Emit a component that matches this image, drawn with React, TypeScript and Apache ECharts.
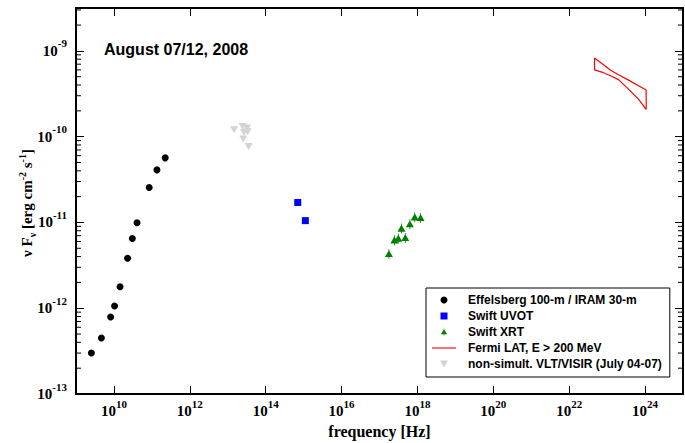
import React, { useEffect, useRef } from 'react';
import * as echarts from 'echarts';

// ---- data (frequency in Hz, nuFnu in erg cm^-2 s^-1) ----
const radioFreq = [2.54e9, 4.66e9, 8.18e9, 1.04e10, 1.45e10, 2.29e10, 3.05e10, 4.06e10, 8.5e10, 1.36e11, 2.25e11];
const radioFlux = [3.0e-13, 4.5e-13, 7.9e-13, 1.06e-12, 1.78e-12, 3.83e-12, 6.5e-12, 9.9e-12, 2.56e-11, 4.1e-11, 5.66e-11];

const uvotFreq = [7.0e14, 1.11e15];
const uvotFlux = [1.71e-11, 1.05e-11];

const xrtFreq = [1.77e17, 2.47e17, 3.13e17, 4.78e17, 3.79e17, 6.31e17, 8.49e17, 1.21e18];
const xrtFlux = [4.3e-12, 6.2e-12, 6.5e-12, 6.6e-12, 8.5e-12, 9.55e-12, 1.15e-11, 1.13e-11];

const visirFreq = [1.47e13, 2.47e13, 3.24e13, 3.34e13, 2.7e13, 2.54e13, 3.55e13];
const visirFlux = [1.2e-10, 1.31e-10, 1.26e-10, 1.14e-10, 1.12e-10, 9.4e-11, 7.7e-11];

const latFreq = [4.66e22, 8.04e22, 1.23e23, 2.0e23, 3.66e23, 6.7e23, 1.07e24];
const latUpper = [8.27e-10, 6.9e-10, 5.95e-10, 5.28e-10, 4.56e-10, 3.93e-10, 3.49e-10];
const latLower = [6.0e-10, 5.57e-10, 5.14e-10, 4.62e-10, 3.58e-10, 2.74e-10, 2.08e-10];

const seriesNames = [
  'Effelsberg 100-m / IRAM 30-m',
  'Swift UVOT',
  'Swift XRT',
  'Fermi LAT, E > 200 MeV',
  'non-simult. VLT/VISIR (July 04-07)',
];

// tick labels (exponents of ten)
const xLabelExps = [10, 12, 14, 16, 18, 20, 22, 24];
const yLabelExps = [-13, -12, -11, -10, -9];

const xMinExp = 9;
const xMaxExp = 25;
const yMinExp = -13;
const yMaxExp = -8.5;
const minorMultipliers = [2, 3, 4, 5, 6, 7, 8, 9];

const L = Math.log10;
const pairs = (xs: number[], ys: number[]) => xs.map((x, i) => [L(x), L(ys[i])]);

const serif = 'Liberation Serif';
const sans = 'Liberation Sans';

const powRich = {
  b: { fontFamily: serif, fontWeight: 'bold', fontSize: 15, lineHeight: 26, color: '#000' },
  s: { fontFamily: serif, fontWeight: 'bold', fontSize: 11, lineHeight: 11, verticalAlign: 'top', color: '#000' },
};
const makeFormatter = (exps: number[]) => (v: number) => {
  const hit = exps.find((e) => Math.abs(e - v) < 1e-6);
  return hit === undefined ? '' : `{b|10}{s|${hit}}`;
};

export default function App() {
  const ref = useRef<HTMLDivElement>(null);
  useEffect(() => {
    if (!ref.current) return;
    const chart = echarts.init(ref.current, null, { renderer: 'svg' });

    const minorY: number[][] = [];
    for (let e = yMinExp; e < yMaxExp; e++) {
      for (const m of minorMultipliers) {
        const v = e + L(m);
        if (v < yMaxExp) minorY.push([xMinExp, v]);
      }
    }

    const lat = [
      ...latFreq.map((f, i) => [L(f), L(latUpper[i])]),
      ...latFreq.map((f, i) => [L(f), L(latLower[i])]).reverse(),
      [L(latFreq[0]), L(latUpper[0])],
    ];

    const axisLine = { onZero: false, lineStyle: { color: '#000', width: 2 } };
    const majorTick = { inside: true, length: 8, lineStyle: { color: '#000', width: 1 } };

    const xBase = {
      type: 'value', min: xMinExp, max: xMaxExp, splitNumber: 8, minInterval: 2, maxInterval: 2,
      axisLine, axisTick: majorTick, splitLine: { show: false },
    };
    const yBase = {
      type: 'value', min: yMinExp, max: yMaxExp, minInterval: 1, maxInterval: 1,
      axisLine, axisTick: majorTick, splitLine: { show: false },
    };

    chart.setOption({
      animation: false,
      backgroundColor: '#fff',
      title: {
        text: 'August 07/12, 2008', left: 104, top: 41, padding: 0,
        textStyle: { fontFamily: sans, fontWeight: 'bold', fontSize: 16, color: '#000' },
      },
      grid: { left: 76, right: 2, top: 8, bottom: 49, containLabel: false, outerBoundsMode: 'none' },
      xAxis: [
        {
          ...xBase, position: 'bottom',
          axisLabel: { margin: 4, formatter: makeFormatter(xLabelExps), rich: powRich, hideOverlap: false },
          name: 'frequency [Hz]', nameLocation: 'middle', nameGap: 28,
          nameTextStyle: { fontFamily: serif, fontWeight: 'bold', fontSize: 16, color: '#000' },
        },
        { ...xBase, position: 'top', axisLabel: { show: false } },
      ],
      yAxis: [
        {
          ...yBase, position: 'left',
          axisLabel: { margin: 9, formatter: makeFormatter(yLabelExps), rich: powRich, hideOverlap: false },
        },
        { ...yBase, position: 'right', axisLabel: { show: false } },
      ],
      legend: {
        orient: 'vertical', left: 426, top: 288, padding: [6, 8, 7, 6], itemGap: 4,
        itemWidth: 24, itemHeight: 7, borderColor: '#000', borderWidth: 1, borderRadius: 0,
        backgroundColor: '#fff',
        textStyle: { fontFamily: sans, fontWeight: 'bold', fontSize: 12, lineHeight: 12, color: '#000', padding: [0, 0, 0, 7] },
        data: [
          { name: seriesNames[0] },
          { name: seriesNames[1] },
          { name: seriesNames[2] },
          { name: seriesNames[3], icon: 'path://M0,0 L24,0 L24,1.1 L0,1.1 Z' },
          { name: seriesNames[4] },
        ],
      },
      graphic: [
        {
          type: 'text', x: 27, y: 203, rotation: Math.PI / 2,
          style: {
            text: '{a|ν F}{sub|ν}{a| [erg cm}{sup|-2}{a| s}{sup|-1}{a|]}',
            align: 'center', verticalAlign: 'middle',
            rich: {
              a: { fontFamily: serif, fontWeight: 'bold', fontSize: 15, lineHeight: 20, fill: '#000' },
              sub: { fontFamily: serif, fontWeight: 'bold', fontSize: 10, lineHeight: 10, verticalAlign: 'bottom', fill: '#000' },
              sup: { fontFamily: serif, fontWeight: 'bold', fontSize: 10, lineHeight: 10, verticalAlign: 'top', fill: '#000' },
            },
          },
        },
      ],
      series: [
        {
          name: seriesNames[0], type: 'scatter', data: pairs(radioFreq, radioFlux),
          symbol: 'circle', symbolSize: 7, itemStyle: { color: '#000', opacity: 1 },
        },
        {
          name: seriesNames[1], type: 'scatter', data: pairs(uvotFreq, uvotFlux),
          symbol: 'path://M0,0 L10,0 L10,10 L0,10 Z', symbolSize: 7, itemStyle: { color: '#0000ff', opacity: 1 },
        },
        {
          name: seriesNames[2], type: 'scatter', data: pairs(xrtFreq, xrtFlux),
          symbol: 'path://M4.5,0 L5.5,0 L5.5,2 L10,9 L5.5,9 L5.5,11 L4.5,11 L4.5,9 L0,9 L4.5,2 Z',
          symbolSize: [8, 10], legendIcon: 'triangle', itemStyle: { color: '#008000', opacity: 1 },
        },
        {
          name: seriesNames[3], type: 'line', data: lat, symbol: 'none', smooth: false,
          lineStyle: { color: '#ff0000', width: 1.2 }, itemStyle: { color: '#ff0000' },
        },
        {
          name: seriesNames[4], type: 'scatter', data: pairs(visirFreq, visirFlux),
          symbol: 'path://M0,0 L10,0 L5,9 Z', symbolSize: [8, 7], itemStyle: { color: '#d3d3d3', opacity: 1 },
        },
        {
          type: 'custom', name: 'minorTicks', silent: true, data: minorY, clip: false,
          renderItem: (_p: any, api: any) => {
            const v = api.value(1);
            const pl = api.coord([xMinExp, v]);
            const pr = api.coord([xMaxExp, v]);
            const st = { stroke: '#000', lineWidth: 1 };
            return {
              type: 'group',
              children: [
                { type: 'line', shape: { x1: pl[0], y1: pl[1], x2: pl[0] + 5, y2: pl[1] }, style: st },
                { type: 'line', shape: { x1: pr[0] - 5, y1: pr[1], x2: pr[0], y2: pr[1] }, style: st },
              ],
            };
          },
        },
      ],
    });
    return () => chart.dispose();
  }, []);
  return <div ref={ref} style={{ position: 'fixed', left: 0, top: 0, width: 685, height: 443 }} />;
}
